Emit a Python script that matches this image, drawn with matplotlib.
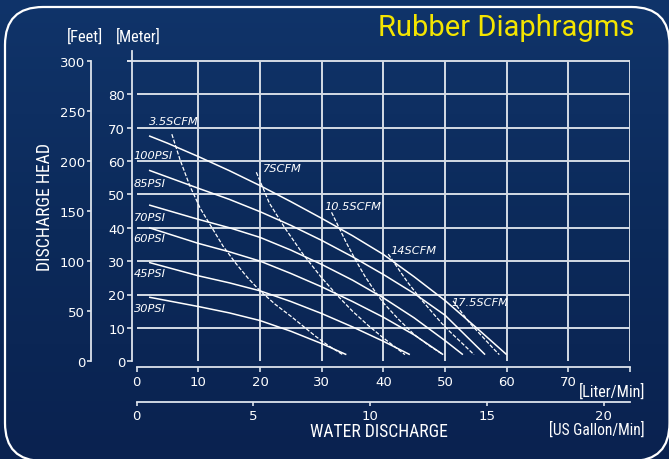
import numpy as np
import matplotlib
matplotlib.use("Agg")
import matplotlib.pyplot as plt
from matplotlib import font_manager
from matplotlib.patches import FancyBboxPatch
from matplotlib.transforms import IdentityTransform
from matplotlib.colors import LinearSegmentedColormap

# performance curves: flow [liter/min] vs head [meter]
psi_labels = ["100PSI", "85PSI", "70PSI", "60PSI", "45PSI", "30PSI"]
psi_flow = [
    [2, 5, 10, 15, 20, 25, 30, 35, 40, 45, 50, 55, 60],
    [2, 10, 15, 20, 25, 30, 35, 40, 45, 50, 56.5],
    [2, 10, 15, 20, 25, 30, 35, 40, 45, 50, 52.9],
    [2, 10, 15, 20, 25, 30, 35, 40, 45, 49.7],
    [2, 10, 15, 20, 25, 30, 35, 40, 44.3],
    [2, 10, 15, 20, 25, 30, 34],
]
psi_head = [
    [67.5, 65.3, 61.3, 57.1, 52.6, 47.8, 42.8, 37.6, 32.0, 25.3, 18.2, 10.2, 2.0],
    [57.2, 51.8, 48.5, 44.8, 40.7, 36.2, 31.3, 26.0, 20.3, 13.8, 2.0],
    [46.8, 42.5, 40.0, 37.1, 33.3, 29.0, 24.3, 19.0, 13.0, 6.2, 2.0],
    [40.0, 35.3, 32.8, 30.0, 26.3, 22.3, 17.9, 13.2, 7.9, 2.0],
    [29.6, 25.6, 23.5, 21.1, 17.9, 14.3, 10.3, 6.0, 2.0],
    [19.2, 16.4, 14.5, 12.2, 9.0, 5.3, 2.0],
]

scfm_labels = ["3.5SCFM", "7SCFM", "10.5SCFM", "14SCFM", "17.5SCFM"]
scfm_flow = [
    [5.7, 7, 8.6, 10.3, 12.2, 14, 16, 18, 20, 22.5, 25, 27, 29, 31, 33.4],
    [19.4, 21.5, 24, 27, 30, 32.5, 35, 37.5, 40, 43.5],
    [31.6, 33, 34, 35.5, 37, 38.5, 40, 42.5, 45, 47.5, 49.7],
    [40.8, 42.5, 44, 46, 48, 49.5, 51, 53, 54.7],
    [51.3, 52.7, 54, 55.3, 56.5, 57.7, 58.8],
]
scfm_head = [
    [68.0, 60.5, 52.6, 45.8, 40.0, 34.5, 29.5, 25.0, 21.1, 17.0, 13.5, 10.5, 7.5, 4.8, 2.0],
    [56.6, 47.4, 40.0, 32.0, 25.0, 19.8, 15.0, 10.8, 7.0, 2.0],
    [44.6, 39.3, 35.5, 30.3, 25.5, 21.3, 17.5, 12.5, 8.0, 4.6, 2.0],
    [32.1, 27.5, 23.5, 18.8, 14.5, 11.3, 8.5, 5.0, 2.0],
    [18.1, 14.6, 11.5, 8.9, 6.5, 4.1, 2.0],
]

meter_ticks = list(range(0, 100, 10))
feet_ticks = list(range(0, 301, 50))
liter_ticks = list(range(0, 90, 10))
gallon_ticks = [0, 5, 10, 15, 20]

# label anchor points (data units)
psi_label_xy = [(-0.5, 61.9), (-0.5, 53.3), (-0.5, 43.1), (-0.5, 36.8), (-0.5, 26.3), (-0.5, 16.0)]
scfm_label_xy = [(2.0, 72.0), (20.4, 57.8), (30.4, 46.6), (41.1, 33.4), (51.0, 17.7)]


def pick_font(names, fallback="DejaVu Sans"):
    for name in names:
        try:
            font_manager.findfont(name, fallback_to_default=False)
            return name
        except Exception:
            pass
    return fallback


narrow = pick_font(["Liberation Sans Narrow", "Roboto Condensed", "Roboto"])
title_font = pick_font(["Roboto"])

W, H = 669, 460
LINE = "#dde3ec"
GRID = "#d4dbe5"


def fx(px):
    return px / W


def fy(py):
    return 1 - py / H


fig = plt.figure(figsize=(W / 100, H / 100), dpi=100)
fig.patch.set_facecolor("#0d2b5b")

# background gradient
bg = fig.add_axes([0, 0, 1, 1], zorder=-10)
grad = np.linspace(0, 1, 256).reshape(-1, 1)
cmap = LinearSegmentedColormap.from_list("bg", ["#10346a", "#0c2a5a", "#0a2250"])
bg.imshow(grad, aspect="auto", cmap=cmap, extent=[0, 1, 0, 1])
bg.axis("off")

# rounded white frame
frame = FancyBboxPatch((5, -2), 664.5, 454, boxstyle="round,pad=0,rounding_size=38",
                       transform=IdentityTransform(), facecolor="none",
                       edgecolor="white", linewidth=1.6)
fig.patches.append(frame)

x0, x1 = 136.7, 630.0
y0, y1 = 362.3, 61.7
ax = fig.add_axes([fx(x0), fy(y0), (x1 - x0) / W, (y0 - y1) / H])
ax.set_xlim(0, 80)
ax.set_ylim(0, 90)
ax.patch.set_alpha(0)
ax.spines["top"].set_visible(False)
ax.spines["right"].set_visible(False)
ax.spines["left"].set_position(("outward", 3.6))
ax.spines["left"].set_bounds(0, 92.9)
ax.spines["bottom"].set_position(("outward", 4))
ax.spines["bottom"].set_bounds(0, 80)
for s in ["left", "bottom"]:
    ax.spines[s].set_color(LINE)
    ax.spines[s].set_linewidth(1.3)
ax.set_yticks(meter_ticks)
ax.set_yticklabels([str(t) for t in meter_ticks[:-1]] + [""])
ax.set_xticks(liter_ticks)
ax.set_xticklabels([str(t) for t in liter_ticks[:-1]] + [""])
ax.tick_params(axis="both", colors=LINE, labelcolor="white", direction="out",
               length=3.6, width=1.2, labelsize=9.5)
ax.tick_params(axis="y", pad=1.2)
ax.tick_params(axis="x", pad=2.5)

# grid
ax.hlines(meter_ticks[1:-1], 0, 80, color=GRID, lw=1.4, zorder=1)
ax.hlines(meter_ticks[-1], -1.6, 80, color=GRID, lw=1.4, zorder=1, clip_on=False)
ax.vlines(liter_ticks[1:], 0, 90, color=GRID, lw=1.4, zorder=1)

# curves
for xs, ys in zip(psi_flow, psi_head):
    ax.plot(xs, ys, color="white", lw=1.1, zorder=3, solid_capstyle="butt")
for xs, ys in zip(scfm_flow, scfm_head):
    ax.plot(xs, ys, color="white", lw=0.9, zorder=3, linestyle=(0, (3.2, 1.4)))

for name, (lx, ly) in zip(psi_labels, psi_label_xy):
    ax.text(lx, ly, name, color="white", fontsize=8.2, style="italic",
            ha="left", va="center", zorder=4, clip_on=False)
for name, (lx, ly) in zip(scfm_labels, scfm_label_xy):
    ax.text(lx, ly, name, color="white", fontsize=8.2, style="italic",
            ha="left", va="center", zorder=4)

# feet axis
axf = fig.add_axes([fx(91), fy(y0), 0.0001, (y0 - y1) / H])
axf.set_ylim(0, 90 * 3.28084)
axf.patch.set_alpha(0)
for s in ["top", "right", "bottom"]:
    axf.spines[s].set_visible(False)
axf.spines["left"].set_bounds(0, 300)
axf.spines["left"].set_color(LINE)
axf.spines["left"].set_linewidth(1.3)
axf.set_xticks([])
axf.set_yticks(feet_ticks)
axf.tick_params(axis="y", colors=LINE, labelcolor="white", direction="out",
                length=2.8, width=1.2, labelsize=9.5, pad=1.5)

# gallon axis
axg = fig.add_axes([fx(x0), fy(402.7), (x1 - x0) / W, 0.0001])
axg.set_xlim(0, 80 / 3.78541)
axg.patch.set_alpha(0)
for s in ["top", "right", "left"]:
    axg.spines[s].set_visible(False)
axg.spines["bottom"].set_bounds(0, 80 / 3.78541)
axg.spines["bottom"].set_color(LINE)
axg.spines["bottom"].set_linewidth(1.3)
axg.set_yticks([])
axg.set_xticks(gallon_ticks)
axg.tick_params(axis="x", colors=LINE, labelcolor="white", direction="out",
                length=3.0, width=1.2, labelsize=9.5, pad=2.5)

# axis titles
fig.text(fx(85), fy(37), "[Feet]", color="white", fontsize=11.8, family=narrow, ha="center", va="center")
fig.text(fx(138), fy(37), "[Meter]", color="white", fontsize=11.5, family=narrow, ha="center", va="center")
fig.text(fx(45), fy(207), "DISCHARGE HEAD", color="white", fontsize=12.8, family=narrow,
         rotation=90, ha="center", va="center")
fig.text(fx(645), fy(392), "[Liter/Min]", color="white", fontsize=11.6, family=narrow, ha="right", va="center")
fig.text(fx(645), fy(430), "[US Gallon/Min]", color="white", fontsize=11.2, family=narrow, ha="right", va="center")
fig.text(fx(379), fy(432), "WATER DISCHARGE", color="white", fontsize=12.7, family=narrow, ha="center", va="center")

fig.text(fx(634), fy(28), "Rubber Diaphragms", color="#f4e500", fontsize=21,
         family=title_font, ha="right", va="center")

fig.savefig("out.png", dpi=100, facecolor=fig.get_facecolor())
